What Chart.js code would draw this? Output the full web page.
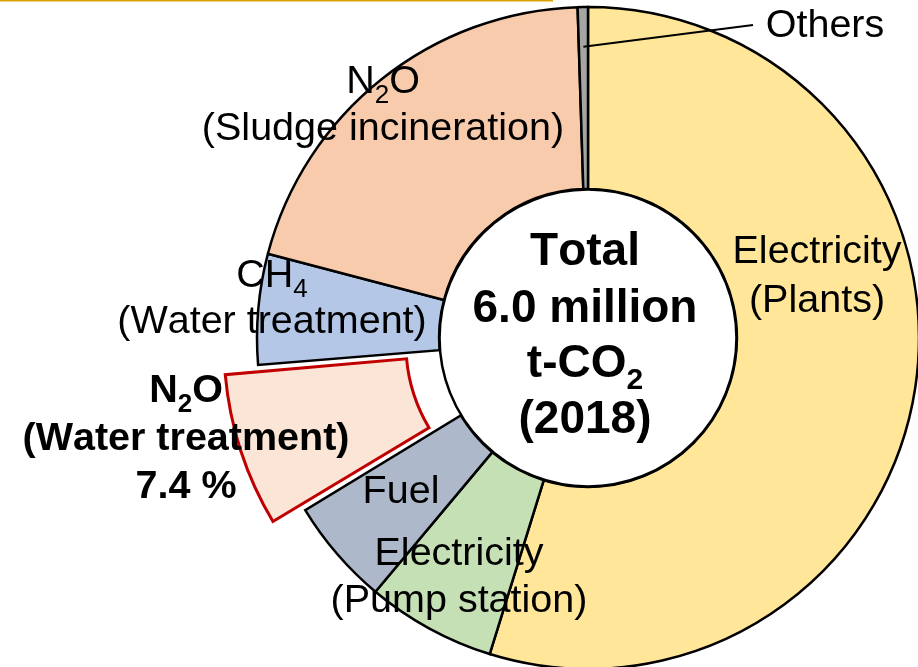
<!DOCTYPE html>
<html>
<head>
<meta charset="utf-8">
<script src="https://cdn.jsdelivr.net/npm/chart.js@4/dist/chart.umd.min.js"></script>
<style>
html,body{margin:0;padding:0;background:#fff;overflow:hidden;}
#wrap{position:absolute;left:0;top:0;width:918px;height:667px;}
canvas{display:block;}
</style>
</head>
<body>
<div id="wrap"><canvas id="c" width="918" height="667"></canvas></div>
<script>
// ---- data ----
const categories = [
  'Electricity (Plants)',
  'Electricity (Pump station)',
  'Fuel',
  'N2O (Water treatment)',
  'CH4 (Water treatment)',
  'N2O (Sludge incineration)',
  'Others'
];
const shares = [54.8, 6.3, 5.2, 7.4, 5.4, 20.4, 0.5];
const highlighted = [false, false, false, true, false, false, false];
const totalLines = ['Total', '6.0 million', 't-CO|2', '(2018)'];
const highlightPercent = '7.4 %';

// ---- styles ----
const fills = ['#FFE699', '#C5E0B4', '#ADB9CA', '#FBE5D6', '#B4C7E7', '#F8CBAD', '#A5A5A5'];
const FONT = "'Liberation Sans', Arial, Helvetica, sans-serif";

// label placement relative to doughnut centre (dx = text centre, dy = baseline)
const labelStyle = [
  {lines: ['Electricity', '(Plants)'], dx: 229, dy: [-75, -26], bold: false},
  {lines: ['Electricity', '(Pump station)'], dx: -129, dy: [227, 274], bold: false},
  {lines: ['Fuel'], dx: -187, dy: [165], bold: false},
  {lines: ['N|2O', '(Water treatment)', highlightPercent], dx: -402, dy: [64, 112, 160], bold: true},
  {lines: ['CH|4', '(Water treatment)'], dx: -316, dy: [-51, -5], bold: false},
  {lines: ['N|2O', '(Sludge incineration)'], dx: -205, dy: [-245, -198], bold: false},
  {lines: ['Others'], dx: 237, dy: [-301], bold: false}
];

function drawRich(ctx, str, cx, by, size, bold) {
  // '|' marks a subscript character following it
  const parts = [];
  for (let i = 0; i < str.length; i++) {
    if (str[i] === '|') { parts.push({t: str[i + 1], sub: true}); i++; }
    else parts.push({t: str[i], sub: false});
  }
  const w = bold ? 'bold ' : '';
  const subSize = Math.round(size * 0.66);
  let total = 0;
  parts.forEach(p => {
    ctx.font = w + (p.sub ? subSize : size) + 'px ' + FONT;
    p.w = ctx.measureText(p.t).width;
    total += p.w;
  });
  let x = cx - total / 2;
  ctx.textAlign = 'left';
  ctx.textBaseline = 'alphabetic';
  parts.forEach(p => {
    ctx.font = w + (p.sub ? subSize : size) + 'px ' + FONT;
    ctx.fillText(p.t, x, by + (p.sub ? size * 0.25 : 0));
    x += p.w;
  });
}

const overlay = {
  id: 'overlay',
  afterDatasetsDraw(chart) {
    const ctx = chart.ctx;
    const arcs = chart.getDatasetMeta(0).data;
    const a0 = arcs[0];
    const cx = a0.x, cy = a0.y;
    ctx.save();
    // top gold rule
    ctx.fillStyle = '#D9A400';
    ctx.fillRect(0, 0, 553, 1.5);
    // centre disc
    ctx.beginPath();
    ctx.arc(cx, cy, a0.innerRadius - 0.5, 0, Math.PI * 2);
    ctx.fillStyle = '#ffffff';
    ctx.fill();
    ctx.lineWidth = 2.5;
    ctx.strokeStyle = '#000';
    ctx.stroke();
    // centre text
    ctx.fillStyle = '#000';
    const base = [-73, -16, 39, 95];
    totalLines.forEach((s, i) => drawRich(ctx, s, cx - 3, cy + base[i], 46, true));
    // leader line for Others
    const oth = arcs[arcs.length - 1];
    const mid = (oth.startAngle + oth.endAngle) / 2;
    const r = oth.outerRadius * 0.88;
    ctx.beginPath();
    ctx.moveTo(cx + Math.cos(mid) * r, cy + Math.sin(mid) * r);
    ctx.lineTo(cx + 165, cy - 313);
    ctx.lineWidth = 2;
    ctx.strokeStyle = '#000';
    ctx.stroke();
    // labels
    labelStyle.forEach(l => {
      l.lines.forEach((s, i) => drawRich(ctx, s, cx + l.dx, cy + l.dy[i], 39.5, l.bold));
    });
    ctx.restore();
  }
};

new Chart(document.getElementById('c'), {
  type: 'doughnut',
  data: {
    labels: categories,
    datasets: [{
      data: shares,
      backgroundColor: fills,
      borderColor: highlighted.map(h => h ? '#C00000' : '#000000'),
      borderWidth: highlighted.map(h => h ? 3 : 2.5),
      offset: highlighted.map(h => h ? 88 : 0),
      borderJoinStyle: 'miter',
      borderAlign: 'center',
      clip: false
    }]
  },
  options: {
    responsive: false,
    devicePixelRatio: 1,
    animation: false,
    radius: 331,
    cutout: '45%',
    rotation: 0,
    layout: {padding: {left: 258, right: 0, top: 9, bottom: 0}},
    plugins: {legend: {display: false}, tooltip: {enabled: false}},
    events: []
  },
  plugins: [overlay]
});
</script>
</body>
</html>
